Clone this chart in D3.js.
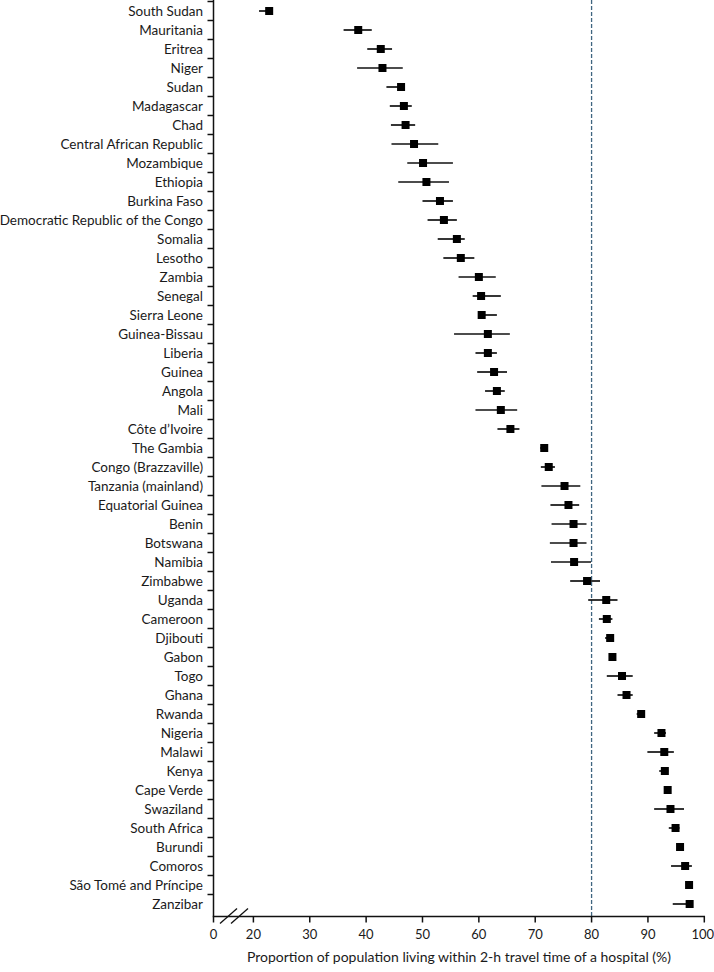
<!DOCTYPE html>
<html>
<head>
<meta charset="utf-8">
<script src="https://cdn.jsdelivr.net/npm/d3@7"></script>
<style>
  body { margin: 0; background: #fff; }
  text { font-family: Lato, "Open Sans", sans-serif; fill: #1a1a1a; }
</style>
</head>
<body>
<script>
'use strict';

var countries = [
  'South Sudan', 'Mauritania', 'Eritrea', 'Niger', 'Sudan', 'Madagascar', 'Chad',
  'Central African Republic', 'Mozambique', 'Ethiopia', 'Burkina Faso',
  'Democratic Republic of the Congo', 'Somalia', 'Lesotho', 'Zambia', 'Senegal',
  'Sierra Leone', 'Guinea-Bissau', 'Liberia', 'Guinea', 'Angola', 'Mali',
  'Côte d\u2019Ivoire', 'The Gambia', 'Congo (Brazzaville)', 'Tanzania (mainland)',
  'Equatorial Guinea', 'Benin', 'Botswana', 'Namibia', 'Zimbabwe', 'Uganda',
  'Cameroon', 'Djibouti', 'Gabon', 'Togo', 'Ghana', 'Rwanda', 'Nigeria', 'Malawi',
  'Kenya', 'Cape Verde', 'Swaziland', 'South Africa', 'Burundi', 'Comoros',
  'São Tomé and Príncipe', 'Zanzibar'
];

var estimate = [
  22.8, 38.6, 42.6, 42.9, 46.2, 46.7, 47.0, 48.5, 50.1, 50.7, 53.1, 53.8, 56.1,
  56.8, 60.0, 60.4, 60.5, 61.6, 61.6, 62.7, 63.2, 63.9, 65.6, 71.6, 72.4, 75.2,
  75.9, 76.8, 76.8, 76.9, 79.2, 82.6, 82.7, 83.3, 83.7, 85.4, 86.2, 88.8, 92.4,
  92.9, 93.0, 93.5, 94.0, 94.9, 95.7, 96.6, 97.3, 97.4
];

var lower = [
  21.0, 36.0, 40.2, 38.4, 43.6, 44.2, 44.4, 44.5, 47.3, 45.7, 50.0, 50.9, 52.7,
  53.7, 56.4, 58.9, 59.9, 55.6, 59.4, 59.7, 61.1, 59.4, 63.3, 70.9, 71.0, 71.1,
  72.7, 72.9, 72.6, 72.8, 76.2, 79.4, 81.3, 82.4, 83.5, 82.7, 84.6, 88.0, 91.1,
  89.9, 92.0, 93.3, 91.1, 93.7, 95.5, 94.1, 97.2, 94.4
];

var upper = [
  23.4, 41.0, 44.6, 46.5, 46.9, 48.1, 48.7, 52.8, 55.4, 54.7, 55.4, 56.1, 57.5,
  59.2, 63.0, 63.9, 63.2, 65.5, 63.2, 65.0, 64.6, 66.8, 67.2, 71.8, 73.5, 78.0,
  77.8, 79.1, 79.1, 79.9, 81.5, 84.6, 83.7, 83.6, 83.9, 87.3, 87.3, 89.1, 93.2,
  94.6, 93.6, 93.7, 96.4, 95.6, 95.9, 97.8, 97.4, 98.0
];

var xTicks = [0, 20, 30, 40, 50, 60, 70, 80, 90, 100];
var reference = 80;
var xTitle = 'Proportion of population living within 2-h travel time of a hospital (%)';

var width = 714;
var height = 972;
var axisX = 213.5;
var axisY = 916.5;

// axis is broken between 0 and 20
var x = d3.scaleLinear().domain([0, 20, 100]).range([axisX, 253.4, 704.3]);
var y = d3.scaleBand().domain(countries).range([1.5, 913.5]);

var rows = countries.map(function(c, i) {
  return { name: c, est: estimate[i], lo: lower[i], hi: upper[i] };
});

var svg = d3.select('body').append('svg')
  .attr('width', width)
  .attr('height', height);

// reference line
svg.append('line')
  .attr('x1', x(reference)).attr('x2', x(reference))
  .attr('y1', 0).attr('y2', axisY)
  .attr('stroke', '#3f6580')
  .attr('stroke-width', 1.3)
  .attr('stroke-dasharray', '4,2');

// y axis
var yAxis = svg.append('g');
yAxis.append('line')
  .attr('x1', axisX).attr('x2', axisX)
  .attr('y1', 0).attr('y2', axisY)
  .attr('stroke', '#111').attr('stroke-width', 1.5);
yAxis.selectAll('.ytick')
  .data(countries)
  .enter().append('line')
  .attr('class', 'ytick')
  .attr('x1', axisX - 6).attr('x2', axisX)
  .attr('y1', function(d) { return y(d); })
  .attr('y2', function(d) { return y(d); })
  .attr('stroke', '#111').attr('stroke-width', 1.5);
yAxis.selectAll('.ylabel')
  .data(countries)
  .enter().append('text')
  .attr('class', 'ylabel')
  .attr('x', 203)
  .attr('y', function(d) { return y(d) + y.bandwidth() / 2; })
  .attr('dy', '0.35em')
  .attr('text-anchor', 'end')
  .style('font-size', '13.5px')
  .text(function(d) { return d; });

// x axis
var xAxis = svg.append('g');
xAxis.append('line')
  .attr('x1', axisX - 0.75).attr('x2', x(100) + 0.75)
  .attr('y1', axisY).attr('y2', axisY)
  .attr('stroke', '#111').attr('stroke-width', 1.5);
xAxis.selectAll('.xtick')
  .data(xTicks)
  .enter().append('line')
  .attr('class', 'xtick')
  .attr('x1', function(d) { return x(d); })
  .attr('x2', function(d) { return x(d); })
  .attr('y1', axisY).attr('y2', axisY + 6)
  .attr('stroke', '#111').attr('stroke-width', 1.5);
xAxis.selectAll('.xlabel')
  .data(xTicks)
  .enter().append('text')
  .attr('class', 'xlabel')
  .attr('x', function(d) { return d === 100 ? x(d) - 1.5 : x(d); })
  .attr('y', axisY + 22)
  .attr('text-anchor', 'middle')
  .style('font-size', '13px')
  .text(function(d) { return d; });

// break marks
[0, 11].forEach(function(off) {
  xAxis.append('line')
    .attr('x1', 220 + off).attr('y1', axisY + 7)
    .attr('x2', 237 + off).attr('y2', axisY - 8)
    .attr('stroke', '#111').attr('stroke-width', 1.3);
});

xAxis.append('text')
  .attr('x', 459)
  .attr('y', 962)
  .attr('text-anchor', 'middle')
  .style('font-size', '14px')
  .text(xTitle);

// whiskers and point estimates
var marks = svg.append('g');
marks.selectAll('.ci')
  .data(rows)
  .enter().append('line')
  .attr('class', 'ci')
  .attr('x1', function(d) { return x(d.lo); })
  .attr('x2', function(d) { return x(d.hi); })
  .attr('y1', function(d) { return y(d.name) + y.bandwidth() / 2; })
  .attr('y2', function(d) { return y(d.name) + y.bandwidth() / 2; })
  .attr('stroke', '#111')
  .attr('stroke-width', 1.7);

var size = 8;
marks.selectAll('.pt')
  .data(rows)
  .enter().append('rect')
  .attr('class', 'pt')
  .attr('x', function(d) { return x(d.est) - size / 2; })
  .attr('y', function(d) { return y(d.name) + y.bandwidth() / 2 - size / 2; })
  .attr('width', size)
  .attr('height', size)
  .attr('fill', '#000');
</script>
</body>
</html>
